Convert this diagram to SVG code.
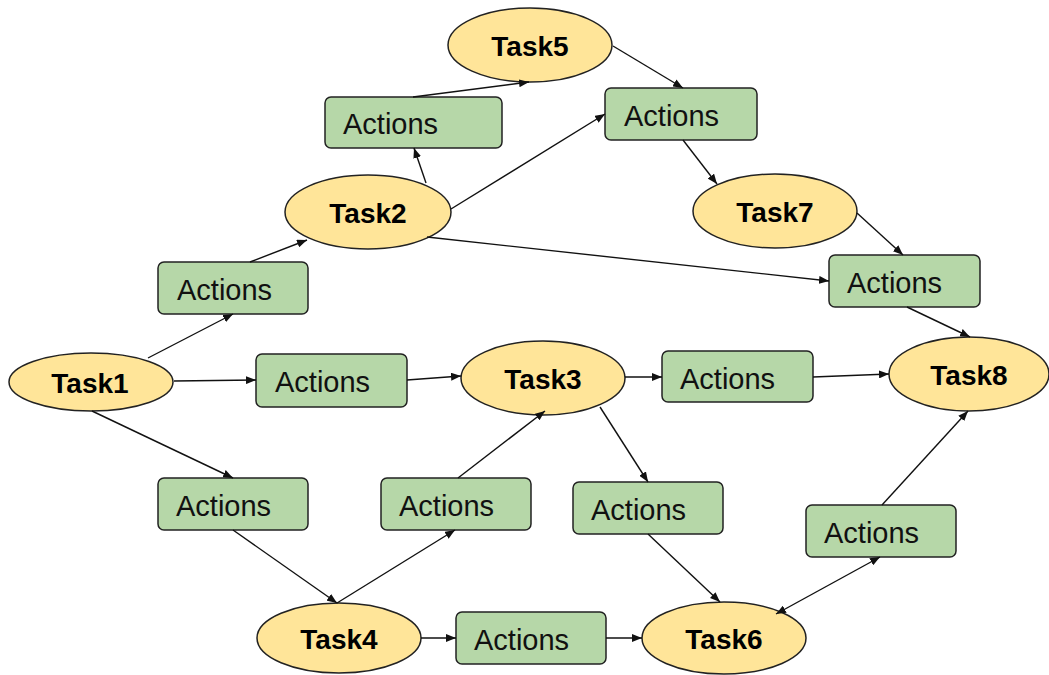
<svg xmlns="http://www.w3.org/2000/svg" width="1049" height="675" viewBox="0 0 1049 675">
<style>
.task ellipse{fill:#ffe599;stroke:#222;stroke-width:1.5}
.act rect{fill:#b6d7a8;stroke:#222;stroke-width:1.5}
.task text{font-family:"Liberation Sans",Arial,sans-serif;font-weight:bold;font-size:28px;fill:#000;text-anchor:middle}
.act text{font-family:"Liberation Sans",Arial,sans-serif;font-size:29px;fill:#111}
#edges line{stroke:#111;stroke-width:1.4;marker-end:url(#arr)}
</style>
<defs>
<marker id="arr" markerUnits="userSpaceOnUse" markerWidth="10" markerHeight="8" refX="10" refY="4" orient="auto-start-reverse">
<path d="M0,0 L10,4 L0,8 z" fill="#111"/>
</marker>
</defs>
<rect width="1049" height="675" fill="#fff"/>
<g id="Task1" class="task"><ellipse cx="91" cy="382" rx="82" ry="29"/><text x="90" y="393">Task1</text></g>
<g id="Task2" class="task"><ellipse cx="368" cy="212" rx="83" ry="37"/><text x="368" y="223">Task2</text></g>
<g id="Task3" class="task"><ellipse cx="543" cy="378" rx="82" ry="37"/><text x="543" y="389">Task3</text></g>
<g id="Task4" class="task"><ellipse cx="339" cy="638" rx="82" ry="35"/><text x="339" y="649">Task4</text></g>
<g id="Task5" class="task"><ellipse cx="530" cy="45" rx="82" ry="37"/><text x="530" y="56">Task5</text></g>
<g id="Task6" class="task"><ellipse cx="724" cy="638" rx="82" ry="36"/><text x="724" y="649">Task6</text></g>
<g id="Task7" class="task"><ellipse cx="775" cy="211" rx="82" ry="37"/><text x="775" y="222">Task7</text></g>
<g id="Task8" class="task"><ellipse cx="969" cy="374" rx="80" ry="37"/><text x="969" y="385">Task8</text></g>
<g id="A_T1_T2" class="act"><rect x="158" y="262" width="150" height="52" rx="6"/><text x="177" y="300">Actions</text></g>
<g id="A_T2_T5" class="act"><rect x="325" y="97" width="177" height="51" rx="6"/><text x="343" y="134">Actions</text></g>
<g id="A_T2_T7" class="act"><rect x="605" y="88" width="152" height="52" rx="6"/><text x="624" y="126">Actions</text></g>
<g id="A_T7_T8" class="act"><rect x="829" y="255" width="151" height="52" rx="6"/><text x="847" y="293">Actions</text></g>
<g id="A_T1_T3" class="act"><rect x="256" y="354" width="151" height="53" rx="6"/><text x="275" y="392">Actions</text></g>
<g id="A_T3_T8" class="act"><rect x="662" y="351" width="151" height="51" rx="6"/><text x="680" y="389">Actions</text></g>
<g id="A_T1_T4" class="act"><rect x="158" y="478" width="150" height="52" rx="6"/><text x="176" y="516">Actions</text></g>
<g id="A_T4_T3" class="act"><rect x="381" y="478" width="150" height="52" rx="6"/><text x="399" y="516">Actions</text></g>
<g id="A_T3_T6" class="act"><rect x="573" y="482" width="150" height="52" rx="6"/><text x="591" y="520">Actions</text></g>
<g id="A_T6_T8" class="act"><rect x="806" y="505" width="150" height="52" rx="6"/><text x="824" y="543">Actions</text></g>
<g id="A_T4_T6" class="act"><rect x="456" y="612" width="150" height="52" rx="6"/><text x="474" y="650">Actions</text></g>
<g id="edges">
<line x1="148" y1="358" x2="233" y2="314"/>
<line x1="250" y1="262" x2="307" y2="240"/>
<line x1="426" y1="183" x2="414" y2="148"/>
<line x1="413" y1="97" x2="529" y2="82"/>
<line x1="451" y1="209" x2="605" y2="114"/>
<line x1="613" y1="46" x2="683" y2="88"/>
<line x1="683" y1="140" x2="717" y2="184"/>
<line x1="857" y1="213" x2="903" y2="255"/>
<line x1="427" y1="237" x2="829" y2="281"/>
<line x1="907" y1="307" x2="970" y2="337"/>
<line x1="174" y1="381" x2="256" y2="380"/>
<line x1="407" y1="380" x2="461" y2="376"/>
<line x1="625" y1="377" x2="662" y2="377"/>
<line x1="813" y1="377" x2="889" y2="374"/>
<line x1="92" y1="411" x2="233" y2="478"/>
<line x1="233" y1="530" x2="337" y2="603"/>
<line x1="337" y1="603" x2="455" y2="530"/>
<line x1="458" y1="478" x2="545" y2="411"/>
<line x1="600" y1="407" x2="648" y2="482"/>
<line x1="648" y1="534" x2="720" y2="602"/>
<line x1="421" y1="638" x2="456" y2="638"/>
<line x1="606" y1="638" x2="642" y2="638"/>
<line x1="776" y1="614" x2="880" y2="557" style="marker-start:url(#arr)"/>
<line x1="882" y1="505" x2="968" y2="411"/>
</g>
</svg>
